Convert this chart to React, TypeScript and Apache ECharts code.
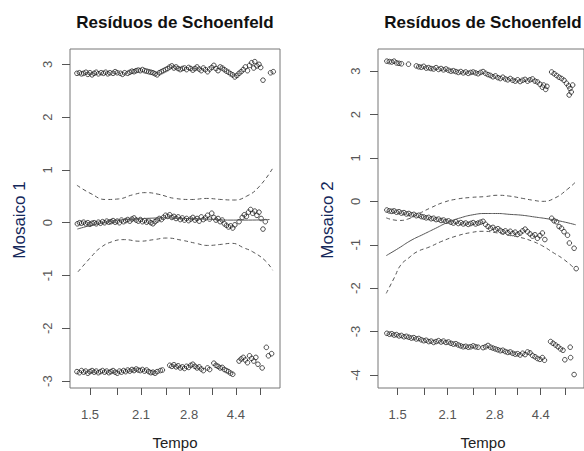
import React, { useEffect, useRef } from "react";
import * as echarts from "echarts";

// x axis: transformed time scale (0..100 across the plot box)
const xTickValues = [9.5, 22.5, 33.8, 46, 56.7, 67.6, 79, 90.8];
const xLabelValues = [9.5, 33.8, 56.7, 79];
const xLabelTexts = ["1.5", "2.1", "2.8", "4.4"];

const leftYTicks = [-3, -2, -1, 0, 1, 2, 3];
const rightYTicks = [-4, -3, -2, -1, 0, 1, 2, 3];

const titleText = "Resíduos de Schoenfeld";
const xTitle = "Tempo";
const yTitles = ["Mosaico 1", "Mosaico 2"];

// ---- Mosaico 1 ----
const m1Top: number[][] = [
  [3.3, 2.83], [4.5, 2.84], [5.5, 2.82], [6.5, 2.83], [7.6, 2.85], [8.5, 2.81], [9.5, 2.84], [10.5, 2.8],
  [11.5, 2.83], [12.5, 2.85], [13.5, 2.82], [14.8, 2.84], [16, 2.83], [17, 2.85], [18, 2.82], [19, 2.84],
  [20.5, 2.83], [21.5, 2.86], [22.5, 2.84], [24, 2.83], [25, 2.81], [26, 2.84], [27.5, 2.83], [28.5, 2.85],
  [29.5, 2.87], [30.5, 2.86], [31.5, 2.88], [32.5, 2.89], [33.5, 2.88], [34.5, 2.9], [35.5, 2.88], [36.5, 2.87],
  [37.5, 2.86], [38.5, 2.85], [39.5, 2.84], [40.5, 2.82], [41.5, 2.8], [42.5, 2.84], [43.5, 2.86], [44.5, 2.88],
  [45.5, 2.9], [46.5, 2.92], [47.5, 2.95], [48.5, 2.97], [49.5, 2.93], [50.5, 2.95], [51.5, 2.92], [52.5, 2.9],
  [53.5, 2.92], [54.5, 2.93], [55.5, 2.9], [56.5, 2.94], [57.5, 2.92], [58.5, 2.89], [59.5, 2.92], [60.5, 2.95],
  [61.5, 2.91], [62.5, 2.88], [63.5, 2.93], [64.5, 2.9], [65.5, 2.86], [66.5, 2.91], [67.5, 2.94], [68.5, 2.98],
  [69.5, 2.92], [70.5, 2.88], [71.5, 2.95], [72.5, 2.93], [73.5, 2.9], [74.5, 2.87], [75.5, 2.85], [76.5, 2.82],
  [77.5, 2.8], [78.5, 2.76], [79.5, 2.79], [80.5, 2.83], [81.5, 2.86], [82.5, 2.9], [83.5, 2.95], [84.5, 2.88],
  [85.5, 2.98], [86.5, 3.03], [87.5, 2.93], [88, 3.05], [89, 2.97], [90, 3.0], [90.8, 2.94], [91.9, 2.7],
  [95.5, 2.84], [96.8, 2.86],
];
const m1Mid: number[][] = [
  [3.5, -0.02], [4.5, 0.0], [5.5, -0.01], [6.5, 0.01], [7.5, -0.02], [8.5, 0.0], [9.5, -0.03], [10.5, -0.01],
  [11.5, 0.0], [12.5, -0.02], [13.5, 0.01], [14.5, -0.01], [15.5, 0.02], [16.5, 0.0], [17.5, 0.03], [18.5, 0.01],
  [19.5, 0.02], [20.5, 0.04], [21.5, 0.01], [22.5, 0.03], [23.5, 0.0], [24.5, 0.05], [25.5, 0.02], [26.5, 0.04],
  [27.5, 0.06], [28.5, 0.03], [29.5, 0.07], [30.5, 0.09], [31.5, 0.05], [32.5, 0.03], [33.5, 0.06], [34.5, 0.02],
  [35.5, 0.04], [36.5, 0.01], [37.5, 0.03], [38.5, 0.0], [39.5, -0.02], [40.5, 0.02], [41.5, 0.05], [42.5, 0.08],
  [43.5, 0.06], [44.5, 0.1], [45.5, 0.14], [46.5, 0.12], [47.5, 0.15], [48.5, 0.1], [49.5, 0.12], [50.5, 0.08],
  [51.5, 0.11], [52.5, 0.06], [53.5, 0.09], [54.5, 0.05], [55.5, 0.08], [56.5, 0.04], [57.5, 0.07], [58.5, 0.1],
  [59.5, 0.05], [60.5, 0.08], [61.5, 0.03], [62.5, 0.11], [63.5, 0.06], [64.5, 0.09], [65.5, 0.14], [66.5, 0.07],
  [67.5, 0.18], [68.5, 0.1], [69.5, 0.05], [70.5, 0.08], [71.5, 0.02], [72.5, 0.05], [73.5, -0.02], [74.5, -0.05],
  [75.5, -0.08], [76.5, -0.06], [77.5, -0.1], [78.5, -0.04], [80.5, 0.02], [82, 0.1], [83, 0.15], [84, 0.12],
  [85, 0.2], [86, 0.25], [87, 0.18], [88, 0.22], [89, 0.14], [90, 0.2], [91, 0.08], [91.9, -0.12], [93, 0.02],
];
const m1Bot: number[][] = [
  [3.3, -2.82], [4.5, -2.84], [5.5, -2.8], [6.5, -2.83], [7.5, -2.81], [8.5, -2.85], [9.5, -2.82], [10.5, -2.8],
  [11.5, -2.83], [12.5, -2.81], [13.5, -2.84], [14.5, -2.82], [15.5, -2.8], [16.5, -2.83], [17.5, -2.81], [18.5, -2.84],
  [19.5, -2.82], [20.5, -2.8], [21.5, -2.83], [22.5, -2.85], [23.5, -2.81], [24.5, -2.83], [25.5, -2.8], [26.5, -2.82],
  [27.5, -2.79], [28.5, -2.81], [29.5, -2.78], [30.5, -2.8], [31.5, -2.77], [32.5, -2.79], [33.5, -2.8], [34.5, -2.78],
  [35.5, -2.81], [36.5, -2.79], [37.5, -2.82], [38.5, -2.84], [39.5, -2.83], [40.5, -2.85], [41.5, -2.82], [43, -2.8],
  [44, -2.79], [47.5, -2.7], [48.5, -2.72], [49.5, -2.69], [50.5, -2.73], [51.5, -2.71], [52.5, -2.75], [53.5, -2.73],
  [54.5, -2.76], [55.5, -2.72], [56.5, -2.74], [57.5, -2.7], [58.5, -2.68], [59.5, -2.72], [60.5, -2.75], [61.5, -2.73],
  [62.5, -2.77], [63.5, -2.8], [65.5, -2.75], [66.5, -2.78], [68.5, -2.66], [69.5, -2.7], [70.5, -2.72], [71.5, -2.75],
  [72.5, -2.74], [73.5, -2.78], [74.5, -2.8], [75.5, -2.82], [76.5, -2.85], [77.5, -2.87], [80.5, -2.62], [81.5, -2.58],
  [82.5, -2.55], [83.5, -2.6], [84.5, -2.65], [85.5, -2.52], [86.5, -2.57], [87.5, -2.62], [88.5, -2.55], [89.5, -2.68],
  [91.5, -2.75], [93.5, -2.36], [94.5, -2.52], [96, -2.48],
];
const m1Fit: number[][] = [
  [3.5, -0.12], [10, -0.05], [18, 0.02], [26, 0.06], [35, 0.08], [45, 0.09], [55, 0.08], [65, 0.07],
  [75, 0.05], [85, 0.05], [95, 0.06],
];
const m1Upper: number[][] = [
  [3.3, 0.71], [10, 0.55], [17, 0.44], [23, 0.45], [30, 0.53], [36, 0.57], [42, 0.54], [50, 0.46],
  [58, 0.44], [65, 0.46], [72, 0.44], [78, 0.43], [84, 0.5], [90, 0.68], [96.5, 1.03],
];
const m1Lower: number[][] = [
  [3.8, -0.93], [10, -0.65], [14.3, -0.48], [20, -0.36], [26, -0.32], [33, -0.35], [40, -0.32], [46, -0.29],
  [53, -0.33], [60, -0.39], [65.5, -0.43], [72, -0.41], [77, -0.39], [83, -0.48], [87, -0.55], [93, -0.72],
  [96.5, -0.9],
];

// ---- Mosaico 2 ----
const m2Top: number[][] = [
  [4.3, 3.23], [5.5, 3.22], [6.7, 3.21], [7.8, 3.23], [9, 3.19], [10.2, 3.18], [11.4, 3.17], [14.8, 3.16],
  [18.6, 3.12], [19.8, 3.1], [21, 3.09], [22.2, 3.11], [23.4, 3.07], [24.6, 3.08], [25.7, 3.06], [27, 3.05],
  [28.2, 3.08], [29.4, 3.04], [30.6, 3.06], [31.8, 3.03], [33, 3.05], [34.2, 3.02], [35.4, 3.0], [36.6, 3.01],
  [37.8, 2.99], [39, 2.97], [40.2, 2.99], [41.4, 2.96], [42.6, 2.98], [43.8, 2.95], [45, 2.97], [46.2, 2.98],
  [47.4, 2.96], [48.6, 2.94], [49.8, 2.97], [51, 2.99], [52.2, 2.95], [53.4, 2.92], [54.6, 2.9], [55.8, 2.87],
  [57, 2.89], [58.2, 2.85], [59.4, 2.83], [60.6, 2.86], [61.8, 2.82], [63, 2.8], [64.2, 2.83], [65.4, 2.79],
  [66.6, 2.77], [67.8, 2.8], [69, 2.76], [70.2, 2.79], [71.4, 2.81], [72.6, 2.77], [73.8, 2.8], [75, 2.82],
  [76.2, 2.77], [77.4, 2.75], [78.6, 2.7], [79.8, 2.63], [80.4, 2.68], [81.4, 2.58], [82, 2.65], [84.3, 2.98],
  [85.5, 2.94], [86.7, 2.9], [87.9, 2.86], [89.1, 2.83], [90.3, 2.79], [91.5, 2.72], [92.5, 2.66], [93.2, 2.6],
  [93.8, 2.52], [92.8, 2.45], [94.5, 2.68],
];
const m2Mid: number[][] = [
  [4.3, -0.2], [5.5, -0.22], [6.7, -0.23], [7.8, -0.22], [9, -0.25], [10.2, -0.24], [11.4, -0.27], [12.6, -0.26],
  [13.8, -0.29], [15, -0.28], [16.2, -0.31], [17.4, -0.3], [18.6, -0.33], [19.8, -0.32], [21, -0.35], [22.2, -0.36],
  [23.4, -0.38], [24.6, -0.37], [25.8, -0.4], [27, -0.39], [28.2, -0.42], [29.4, -0.41], [30.6, -0.44], [31.8, -0.43],
  [33, -0.46], [34.2, -0.45], [35.4, -0.48], [36.6, -0.5], [37.8, -0.47], [39, -0.51], [40.2, -0.49], [41.4, -0.52],
  [42.6, -0.5], [43.8, -0.53], [45, -0.51], [46.2, -0.49], [47.4, -0.52], [48.6, -0.5], [49.8, -0.48], [51, -0.46],
  [52.2, -0.53], [53.4, -0.58], [54.6, -0.62], [55.8, -0.6], [57, -0.65], [58.2, -0.63], [59.4, -0.67], [60.6, -0.7],
  [61.8, -0.68], [63, -0.72], [64.2, -0.69], [65.4, -0.74], [66.6, -0.71], [67.8, -0.76], [69, -0.73], [70.2, -0.68],
  [71.4, -0.64], [72.6, -0.7], [73.8, -0.75], [75, -0.8], [76.2, -0.77], [77.4, -0.85], [78.6, -0.79], [79.8, -0.73],
  [81, -0.88], [84.3, -0.39], [85.5, -0.45], [86.7, -0.47], [87.9, -0.58], [89.1, -0.62], [90.3, -0.7], [92, -0.78],
  [92.9, -0.96], [95.2, -1.08], [96.2, -1.55],
];
const m2Bot: number[][] = [
  [4.3, -3.04], [5.5, -3.06], [6.7, -3.05], [7.8, -3.08], [9, -3.07], [10.2, -3.1], [11.4, -3.09], [12.6, -3.12],
  [13.8, -3.11], [15, -3.13], [16.2, -3.15], [17.4, -3.14], [18.6, -3.17], [19.8, -3.16], [21, -3.19], [22.2, -3.21],
  [23.4, -3.2], [24.6, -3.23], [25.8, -3.22], [27, -3.25], [28.2, -3.23], [29.4, -3.21], [30.6, -3.24], [31.8, -3.22],
  [33, -3.25], [34.2, -3.24], [35.4, -3.27], [36.6, -3.29], [37.8, -3.28], [39, -3.31], [40.2, -3.33], [41.4, -3.35],
  [42.6, -3.34], [43.8, -3.36], [45, -3.35], [46.2, -3.33], [47.4, -3.35], [48.6, -3.36], [51, -3.37], [52.2, -3.35],
  [53.4, -3.32], [54.6, -3.36], [55.8, -3.38], [57, -3.4], [58.2, -3.42], [59.4, -3.44], [60.6, -3.43], [61.8, -3.46],
  [63, -3.48], [64.2, -3.47], [65.4, -3.5], [66.6, -3.52], [67.8, -3.51], [69, -3.54], [70.2, -3.5], [71.4, -3.53],
  [72.6, -3.47], [73.8, -3.49], [75, -3.55], [76.2, -3.58], [77.4, -3.62], [78.6, -3.64], [79.8, -3.6], [80.8, -3.66],
  [83.8, -3.23], [85, -3.27], [86.2, -3.31], [87.4, -3.35], [88.6, -3.4], [89.8, -3.43], [90.7, -3.65], [93.3, -3.36],
  [93.5, -3.6], [95.2, -3.99],
];
const m2Fit: number[][] = [
  [4, -1.25], [10, -1.08], [16, -0.9], [22, -0.76], [28, -0.62], [34, -0.48], [40, -0.38], [46, -0.31],
  [52, -0.28], [58, -0.28], [64, -0.3], [70, -0.32], [76, -0.36], [82, -0.4], [88, -0.45], [96, -0.54],
];
const m2Upper: number[][] = [
  [4, -0.38], [10, -0.44], [15, -0.4], [20, -0.28], [26, -0.14], [32, -0.02], [38, 0.05], [45, 0.09],
  [52, 0.11], [58, 0.14], [64, 0.12], [70, 0.07], [76, 0.02], [80, 0.0], [86, 0.08], [92, 0.28], [96, 0.45],
];
const m2Lower: number[][] = [
  [4, -2.12], [8, -1.75], [11, -1.47], [15, -1.3], [19, -1.16], [25, -1.05], [31, -0.92], [38, -0.8],
  [45, -0.72], [51, -0.69], [57, -0.72], [63, -0.78], [69, -0.83], [75, -0.92], [80, -1.03], [85, -1.18],
  [90, -1.33], [95.5, -1.55],
];

const FONT = "'Liberation Sans', Arial, Helvetica, sans-serif";

export default function App() {
  const ref = useRef<HTMLDivElement>(null);

  useEffect(() => {
    if (!ref.current) return;
    const chart = echarts.init(ref.current, undefined, { renderer: "svg" });

    const grids = [
      { left: 70, top: 49, width: 210, height: 339 },
      { left: 378, top: 49, width: 210, height: 339 },
    ];

    const xAxis = [0, 1].map((i) => ({
      type: "value",
      gridIndex: i,
      position: "bottom",
      min: 0,
      max: 100,
      splitLine: { show: false },
      axisLine: { show: false, onZero: false },
      axisTick: { show: true, length: 7, customValues: xTickValues, lineStyle: { color: "#555" } },
      axisLabel: {
        customValues: xLabelValues,
        formatter: (v: number) => {
          const k = xLabelValues.findIndex((t) => Math.abs(t - v) < 0.01);
          return k >= 0 ? xLabelTexts[k] : "";
        },
        margin: 20,
        fontSize: 13,
        color: "#555",
        fontFamily: FONT,
      },
    }));

    const yAxis = [
      { min: -3.13, max: 3.29, ticks: leftYTicks },
      { min: -4.3, max: 3.51, ticks: rightYTicks },
    ].map((a, i) => ({
      type: "value",
      gridIndex: i,
      position: "left",
      min: a.min,
      max: a.max,
      splitLine: { show: false },
      axisLine: { show: false, onZero: false },
      axisTick: { show: true, length: 8, customValues: a.ticks, lineStyle: { color: "#555" } },
      axisLabel: {
        customValues: a.ticks,
        rotate: 90,
        margin: 16,
        fontSize: 13,
        color: "#555",
        fontFamily: FONT,
      },
    }));

    const pointStyle = {
      color: "rgba(0,0,0,0)",
      borderColor: "#222",
      borderWidth: 1,
    };
    const scatter = (data: number[][], i: number) => ({
      type: "scatter",
      xAxisIndex: i,
      yAxisIndex: i,
      data,
      symbol: "circle",
      symbolSize: 4.6,
      itemStyle: pointStyle,
      silent: true,
    });
    const line = (data: number[][], i: number, dashed: boolean) => ({
      type: "line",
      xAxisIndex: i,
      yAxisIndex: i,
      data,
      smooth: 0.5,
      showSymbol: false,
      silent: true,
      lineStyle: { color: "#555", width: 1, type: dashed ? [4, 3] : "solid" },
    });

    const centers = [175, 483];
    const yTitleX = [19, 327];

    chart.setOption({
      animation: false,
      backgroundColor: "#fff",
      grid: grids.map((g) => ({ ...g, show: true, borderColor: "#777", borderWidth: 1, backgroundColor: "transparent" })),
      xAxis,
      yAxis,
      series: [
        scatter(m1Top, 0),
        scatter(m1Mid, 0),
        scatter(m1Bot, 0),
        line(m1Fit, 0, false),
        line(m1Upper, 0, true),
        line(m1Lower, 0, true),
        scatter(m2Top, 1),
        scatter(m2Mid, 1),
        scatter(m2Bot, 1),
        line(m2Fit, 1, false),
        line(m2Upper, 1, true),
        line(m2Lower, 1, true),
      ],
      graphic: [
        ...centers.map((cx) => ({
          type: "text",
          x: cx,
          y: 22,
          style: {
            text: titleText,
            align: "center",
            verticalAlign: "middle",
            font: `bold 17px ${FONT}`,
            fill: "#111",
          },
        })),
        ...centers.map((cx) => ({
          type: "text",
          x: cx,
          y: 442,
          style: {
            text: xTitle,
            align: "center",
            verticalAlign: "middle",
            font: `15px ${FONT}`,
            fill: "#222",
          },
        })),
        ...yTitleX.map((x, i) => ({
          type: "text",
          x,
          y: 220,
          rotation: Math.PI / 2,
          style: {
            text: yTitles[i],
            align: "center",
            verticalAlign: "middle",
            font: `17px ${FONT}`,
            fill: "#14285a",
          },
        })),
      ],
    });

    return () => chart.dispose();
  }, []);

  return (
    <div
      ref={ref}
      style={{ position: "fixed", left: 0, top: 0, width: 584, height: 451, background: "#fff" }}
    />
  );
}
